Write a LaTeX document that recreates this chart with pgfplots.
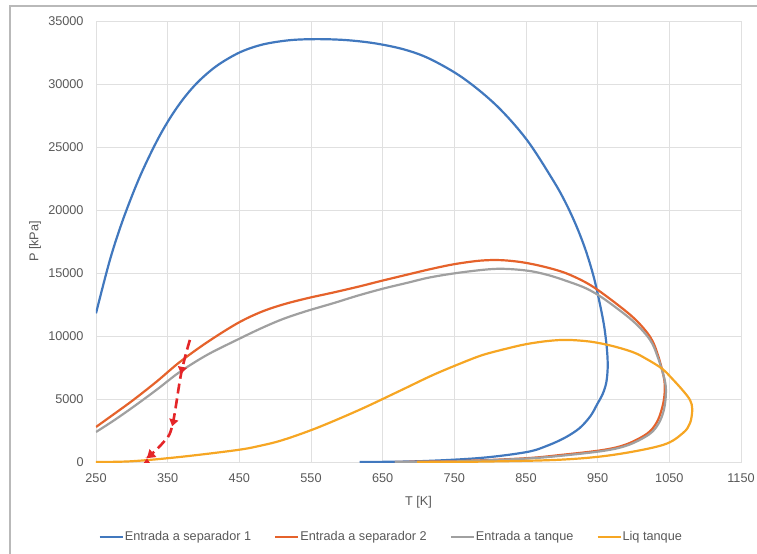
\documentclass[border=0pt]{standalone}
\usepackage{pgfplots}
\pgfplotsset{compat=1.18}
\usepackage{fontspec}
\setmainfont{Liberation Sans}
\usetikzlibrary{decorations.markings,arrows.meta}
\definecolor{cblue}{HTML}{4178BE}
\definecolor{corange}{HTML}{E5622B}
\definecolor{cgray}{HTML}{A0A0A0}
\definecolor{cyellow}{HTML}{F6A623}
\definecolor{cred}{HTML}{E42528}
\definecolor{tickgray}{HTML}{595959}
\definecolor{gridgray}{HTML}{E0E0E0}
\begin{document}
\fontsize{12.7bp}{15bp}\selectfont
\begin{tikzpicture}
\useasboundingbox (-96bp,-92bp) rectangle (661bp,462bp);
\draw[color=gray!55, line width=1.5bp] (-86bp,-92bp) -- (-86bp,456bp) -- (661bp,456bp);
\begin{axis}[
  at={(0,0)}, anchor=south west,
  scale only axis, width=645bp, height=441bp,
  xmin=250, xmax=1150, ymin=0, ymax=35000,
  xtick={250,350,...,1150}, ytick={0,5000,...,35000},
  grid=major, major grid style={gridgray, line width=0.8bp},
  axis line style={gridgray, line width=0.8bp},
  tick style={draw=none},
  /pgf/number format/assume math mode=true,
  /pgf/number format/1000 sep={},
  scaled y ticks=false,
  ticklabel style={font=\fontsize{12.7bp}{15bp}\selectfont, text=tickgray},
  yticklabel style={xshift=-8bp},
  xticklabel style={yshift=-7bp},
  xlabel={T [K]}, ylabel={P [kPa]},
  every axis x label/.style={at={(axis description cs:0.5,-0.0907)}, anchor=center, font=\fontsize{12.7bp}{15bp}\selectfont, text=tickgray},
  every axis y label/.style={at={(axis description cs:-0.0946,0.5)}, rotate=90, anchor=center, font=\fontsize{12.7bp}{15bp}\selectfont, text=tickgray},
  legend columns=4,
  legend style={at={(axis description cs:0.457,-0.170)}, anchor=center, draw=none, fill=none,
    font=\fontsize{12.7bp}{15bp}\selectfont, text=tickgray,
    nodes={inner sep=1bp},
    /tikz/every even column/.append style={column sep=22bp}},
  legend image code/.code={\draw[#1] (0bp,0bp) -- (23bp,0bp);},
  every axis plot/.append style={line width=2.2bp, smooth, tension=0.55},
]
\addplot[cblue] coordinates {
(250,11800) (269.5,16050) (288,19290) (311,22620) (335,25480) (355,27450) (375,29050) (395,30310)
(420,31500) (451,32520) (483,33140) (521,33480) (560,33560) (600,33480) (640,33220) (680,32740)
(716,31990) (762,30480) (809,28280) (851,25580) (888,22340) (905,20610) (920,18770) (933,16850)
(944,14800) (952,12840) (959,10800) (963,8900) (964,7500) (962,6300) (957,5400) (949,4550)
(940,3650) (925,2700) (905,1950) (880,1300) (851,790) (786,320) (700,60) (618,0)};
\addlegendentry{Entrada a separador 1}
\addplot[corange] coordinates {
(250,2780) (275,3800) (302,4920) (335,6400) (367,7940) (405,9500) (447,11000) (480,11900)
(511,12500) (545,13000) (581,13450) (615,13900) (650,14400) (685,14880) (716,15300) (750,15700)
(786,15980) (815,16020) (845,15850) (875,15500) (905,15000) (935,14200) (960,13250) (999,11500)
(1023,9950) (1034,8500) (1043,6500) (1043,5200) (1039,4100) (1032,3100) (1019,2250) (990,1400)
(957,950) (897,550) (850,300) (760,80) (667,0)};
\addlegendentry{Entrada a separador 2}
\addplot[cgray] coordinates {
(250,2380) (275,3300) (302,4370) (335,5750) (367,7150) (405,8500) (447,9700) (480,10600)
(511,11350) (545,12000) (581,12600) (615,13200) (650,13750) (685,14230) (716,14650) (760,15050)
(809,15330) (850,15200) (880,14850) (910,14300) (935,13750) (960,12900) (999,11200) (1023,9700)
(1034,8300) (1044,6400) (1045,5200) (1042,4050) (1035,3050) (1022,2200) (993,1350) (960,900)
(900,500) (850,270) (760,60) (667,0)};
\addlegendentry{Entrada a tanque}
\addplot[cyellow] coordinates {
(250,0) (300,60) (367,400) (447,950) (480,1300) (511,1750) (558,2700) (618,4150) (674,5650)
(720,6900) (762,7900) (790,8500) (823,9000) (850,9350) (880,9600) (907,9690) (940,9550)
(971,9200) (1000,8700) (1019,8150) (1040,7400) (1055,6550) (1070,5600) (1079,4900) (1082,4200)
(1079,3100) (1069,2300) (1041,1350) (971,560) (897,180) (786,30) (698,0)};
\addlegendentry{Liq tanque}
\addplot[cred, line width=2.6bp, dash pattern=on 10bp off 5bp, tension=0.6, forget plot,
  -{Triangle[length=8bp,width=10bp]},
  postaction={decorate, decoration={markings,
    mark=at position 0.27 with {\arrow{Triangle[length=7bp,width=9bp]}},
    mark=at position 0.68 with {\arrow{Triangle[length=7bp,width=9bp]}}}}]
  coordinates {(381,9690) (369,7070) (356,2780) (343,1500) (321,300)};
\end{axis}
\end{tikzpicture}
\end{document}
